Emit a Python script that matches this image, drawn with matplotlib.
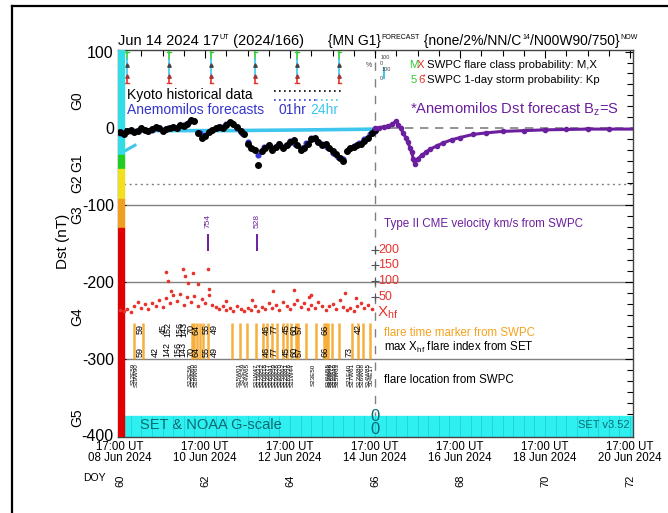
import numpy as np
import matplotlib
matplotlib.use("Agg")
import matplotlib.pyplot as plt
from matplotlib.lines import Line2D
from matplotlib.ticker import MultipleLocator

plt.rcParams.update({"font.family": "Liberation Sans", "mathtext.fontset": "custom",
                     "mathtext.rm": "Liberation Sans", "mathtext.it": "Liberation Sans:italic",
                     "mathtext.bf": "Liberation Sans:bold", "axes.linewidth": 1.0})

# time axis: days since 17:00 UT 08 Jun 2024
# Kyoto Dst, every 2 h from day 0 to day 6
KYOTO = [-5, -7, -4, -2, -5, -3, 0, -2, -4, -1, 2, 0,
         -3, -1, 0, 2, 1, 4, 3, 5, 11, 10, -6, -12,
         -10, -5, -2, 0, 2, 0, 4, 8, 6, 2, -3, -8,
         -20, -25, -28, -48, -30, -26, -22, -28, -24, -20, -26, -22,
         -18, -15, -22, -28, -25, -20, -14, -12, -18, -22, -20, -26,
         -30, -34, -38, -42, -30, -26, -24, -22, -20, -16, -12, -6,
         -2]
# Anemomilos 01hr forecast, every 3 h
FC01 = [-6, -5, -3, -4, -1, -3, -2, 0,
        -2, 1, 2, 3, 4, 8, 9, -6,
        -9, -3, 1, 2, 5, 7, 1, -6,
        -18, -27, -35, -24, -22, -26, -20, -23,
        -16, -20, -26, -19, -12, -17, -21, -24,
        -32, -37, -40, -27, -23, -19, -14, -8,
        -3]
# Anemomilos 24hr forecast
FC24_T = [0.05, 0.6, 2.5, 4.5, 6.05]
FC24_V = [-5, -3, -3, -2, -1]
FC24S_T = [0.06, 0.35]
FC24S_V = [-31, -22]
# Dst forecast Bz=S
DST_T = [6.0, 6.1, 6.2, 6.3, 6.4, 6.5, 6.55, 6.6, 6.66, 6.72, 6.77, 6.82, 6.86, 6.9, 6.93,
         7.0, 7.1, 7.2, 7.3, 7.45, 7.6, 7.8, 8.0, 8.3, 8.6, 9.0, 9.5, 10.0, 10.5, 11.0, 11.5, 12.07]
DST_V = [0, 1, 2, 3, 5, 10, 4, 0, -6, -12, -18, -25, -31, -40, -46,
         -40, -35, -31, -27, -23, -19, -15, -12, -8, -6, -4, -3, -2, -1.5, -1, -1, -1]
# SET X_hf flare index, every 2 h, plus spikes
XHF = [8, 5, 12, 3, 20, 35, 15, 28, 10, 30, 22, 40,
       18, 45, 30, 55, 38, 60, 25, 48, 35, 52, 20, 42,
       30, 55, 25, 18, 10, 22, 8, 15, 5, 20, 12, 6,
       15, 8, 22, 4, 18, 10, 30, 14, 25, 8, 35, 20,
       12, 28, 40, 18, 30, 10, 25, 15, 35, 22, 8, 20,
       28, 12, 40, 18, 8, 15, 5, 22, 30, 14, 25, 10]
XHF_SPK_T = [1.08, 1.12, 1.2, 1.48, 1.52, 1.6, 1.72, 1.83, 2.06, 2.1, 3.6, 4.1, 4.45, 4.5, 5.3, 5.55, 2.5, 3.1]
XHF_SPK_V = [130, 100, 70, 140, 115, 95, 125, 90, 140, 75, 70, 72, 48, 55, 62, 45, 38, 40]
# SWPC flare times
FLARE_T = [0.33, 0.53, 1.68, 1.75, 1.82, 1.87, 1.94, 2.06, 2.64, 2.81, 2.99, 3.20, 3.37, 3.46, 3.58,
           3.70, 3.84, 3.93, 4.02, 4.14, 4.19, 4.37, 4.61, 4.80, 4.84, 4.89, 4.98, 5.15, 5.45, 5.59,
           5.71, 5.89]
# max X_hf index labels (two rows)
IDX_TOP_T = [0.04, 0.47, 1.01, 1.13, 1.40, 1.50, 1.68, 1.79, 2.03, 2.22, 3.43, 3.63, 3.90, 4.09, 4.21, 4.83, 5.61]
IDX_TOP = ["53", "59", "45", "152", "156", "143", "70", "64", "55", "49", "46", "77", "45", "60", "57", "66", "42"]
IDX_BOT_T = [0.47, 0.82, 1.09, 1.36, 1.48, 1.68, 1.79, 2.03, 2.22, 3.43, 3.63, 3.90, 4.09, 4.21, 4.83, 5.38]
IDX_BOT = ["59", "42", "142", "156", "143", "70", "64", "55", "49", "46", "77", "45", "60", "57", "66", "73"]
# flare locations
LOC_T = [0.30, 0.38, 1.65, 1.72, 1.80, 2.80, 2.90, 3.00, 3.20, 3.27, 3.34, 3.41, 3.48, 3.55, 3.62,
         3.69, 3.76, 3.83, 3.90, 3.97, 4.04, 4.55, 4.90, 4.95, 5.00, 5.05, 5.10, 5.40, 5.47, 5.62,
         5.69, 5.85, 5.92]
LOC = ["S12E59", "S19W90", "S12E56", "S15W60", "S18W66", "S15W01", "S12E59", "S14W65", "S11W47",
       "S17W33", "S12W52", "S20W18", "S13W77", "S16W41", "S12W59", "S19W28", "S14W70", "S15W62",
       "S12W81", "S18W36", "S11W44", "S23E50", "S16W55", "S12W66", "S18W72", "S14W49", "S15W63",
       "S21E40", "S17W61", "S13W80", "S16W68", "S14W85", "S04E17"]
# CME type II
CME_T = [2.06, 3.23]
CME_V = ["754", "528"]
# SWPC probability markers
PROB_T = [0.16, 1.15, 2.15, 3.18, 4.16, 5.16]

XTICKS = [0, 2, 4, 6, 8, 10, 12]
XLABELS = ["17:00 UT\n08 Jun 2024", "17:00 UT\n10 Jun 2024", "17:00 UT\n12 Jun 2024",
           "17:00 UT\n14 Jun 2024", "17:00 UT\n16 Jun 2024", "17:00 UT\n18 Jun 2024",
           "17:00 UT\n20 Jun 2024"]
DOY = ["60", "62", "64", "66", "68", "70", "72"]
GSCALE = [(36, "G0"), (-45, "G1"), (-72, "G2"), (-112, "G3"), (-245, "G4"), (-377, "G5")]
GBAR = [(102, -35, "#33dde6"), (-35, -53, "#22cc22"), (-53, -92, "#f0e020"),
        (-92, -130, "#f0a020"), (-130, -402, "#e00000")]
XHF_SCALE = [200, 150, 100, 50]
# header pieces: (text, superscript?)
HEAD1 = [("Jun 14 2024 17", False), ("UT", True), (" (2024/166)", False)]
HEAD2 = [("{MN G1}", False), ("FORECAST", True), (" {none/2%/NN/C", False), ("14", True),
         ("/N00W90/750}", False), ("NOW", True)]

CYAN = "#2ef0f0"
CYAN_L = "#3fc6ef"
BLUE = "#3434d0"
PURPLE = "#6b1f9e"
ORANGE = "#f6a21c"
RED = "#e8332d"
TEAL = "#0b6b73"
GRAY = "#808080"


def header(ax, x0, pieces, size):
    prev = base = None
    for s, sup in pieces:
        if base is None:
            prev = base = ax.annotate(s, xy=(x0, 1 - 48 / 513), xycoords="figure fraction",
                                      fontsize=size, va="bottom", annotation_clip=False)
        elif sup:
            prev = ax.annotate(s, xy=(1, 1), xycoords=(prev, base), xytext=(0.5, 0),
                               textcoords="offset points", fontsize=size * 0.5, va="top",
                               annotation_clip=False)
        else:
            prev = base = ax.annotate(s, xy=(1, 0), xycoords=(prev, base),
                                      fontsize=size, va="bottom", annotation_clip=False)
    return prev


fig = plt.figure(figsize=(6.68, 5.13), dpi=100)
ax = fig.add_axes([118 / 668, 1 - 437 / 513, 515 / 668, 387 / 513])
ax.set_xlim(-0.05, 12.07)
ax.set_ylim(-402, 102)

# frame of the screenshot
fig.add_artist(Line2D([12 / 668, 1.0], [1 - 6 / 513] * 2, color="k", lw=1.6))
fig.add_artist(Line2D([12 / 668] * 2, [0, 1 - 6 / 513], color="k", lw=1.6))

# reference lines
for lvl in (-100, -200, -300):
    ax.axhline(lvl, color=GRAY, lw=1.0, zorder=1)
ax.axhline(-72, color=GRAY, lw=1.0, ls=(0, (1.5, 2.5)), zorder=1)
ax.hlines(0, 6, 12.07, color=GRAY, lw=1.2, ls=(0, (5, 4)), zorder=1)
ax.axvline(6, color=GRAY, lw=1.0, ls=(0, (6, 6)), zorder=1)

# bottom G-scale band
ax.axhspan(-402, -374, color=CYAN, zorder=2)
ax.vlines(np.arange(0, 12.01, 0.25), -402, -374, color="#20d0d8", lw=0.6, zorder=2)
ax.text(0.47, -387, "SET & NOAA G-scale", color=TEAL, fontsize=10.5, va="center", zorder=3)
ax.text(12.0, -387, "SET v3.52", color=TEAL, fontsize=8, va="center", ha="right", zorder=3)
ax.text(6.0, -375, "0", color=TEAL, fontsize=12, ha="center", va="center", zorder=3)
ax.text(6.0, -392, "0", color=TEAL, fontsize=12, ha="center", va="center", zorder=3)

# left G bar
for top, bot, c in GBAR:
    ax.axhspan(bot, top, xmin=0, xmax=0.011, color=c, zorder=4)

# probability markers at top
for t in PROB_T:
    ax.plot([t, t], [100, 90], color="#33cc33", lw=1.2, zorder=3)
    ax.plot([t, t], [90, 66], color=CYAN_L, lw=1.2, zorder=3)
    ax.plot([t, t], [66, 59], color=RED, lw=1.2, zorder=3)
    ax.plot([t - 0.04, t + 0.04], [59, 59], color=RED, lw=1.0, zorder=3)
    ax.plot([t - 0.04, t + 0.04], [100, 100], color="#33cc33", lw=1.0, zorder=3)
    ax.plot([t], [82], marker="^", ms=2.5, color="#444444", zorder=3)
    ax.plot([t], [68], marker="^", ms=2.5, color="#aa3333", zorder=3)
ax.plot([6.2, 6.2], [78, 66], color=CYAN_L, lw=1.4)
ax.text(6.13, 92, "100", fontsize=4, color="#444444", va="center")
ax.text(5.93, 82, "%", fontsize=5, color="#444444", va="center", ha="right")
ax.text(6.1, 85, "0", fontsize=4, color="#444444", va="center")
ax.text(6.15, 76, "100", fontsize=4, color="#444444", va="center")
ax.text(6.1, 65, "0", fontsize=4, color="#444444", va="center")

# Dst series
kt = np.arange(len(KYOTO)) * 2 / 24
ft = np.arange(len(FC01)) * 3 / 24
ax.plot(FC24_T, FC24_V, color=CYAN_L, lw=2.6, zorder=3, solid_capstyle="butt")
ax.plot(FC24S_T, FC24S_V, color=CYAN_L, lw=2.2, zorder=3)
ax.plot(ft, FC01, "o", color=BLUE, ms=3.4, zorder=4)
ax.plot(kt, KYOTO, "o", color="k", ms=4.0, zorder=5)
ax.plot(DST_T, DST_V, "-", color=PURPLE, lw=2.2, zorder=5)
ax.plot(DST_T[:-1], DST_V[:-1], "o", color=PURPLE, ms=3, zorder=5)

# legend text
ax.text(0.16, 44, "Kyoto historical data", fontsize=10, va="center")
ax.text(0.16, 24.5, "Anemomilos forecasts", fontsize=10, color=BLUE, va="center")
ax.text(3.72, 24.5, "01hr", fontsize=10, color=BLUE, va="center")
ax.text(4.47, 24.5, "24hr", fontsize=10, color=CYAN_L, va="center")
ax.plot([3.63, 5.19], [49, 49], color="k", lw=1.2, ls=(0, (1, 2)))
ax.plot([3.63, 4.6], [37, 37], color=BLUE, lw=1.2, ls=(0, (1, 2)))
ax.plot([4.6, 5.19], [37, 37], color=CYAN_L, lw=1.2, ls=(0, (1, 2)))

ax.text(6.81, 82.6, "M", color="#33cc33", fontsize=8.2, va="center")
ax.text(6.99, 82.6, "X", color=RED, fontsize=8.2, va="center")
ax.text(7.22, 82.6, "SWPC flare class probability: M,X", fontsize=8.2, va="center")
ax.text(6.84, 63, "5", color="#33cc33", fontsize=8.2, va="center")
ax.text(7.01, 63, "6", color=RED, fontsize=8.2, va="center")
ax.text(7.12, 67, "*", color=RED, fontsize=5, va="center")
ax.text(7.22, 63, "SWPC 1-day storm probability: Kp", fontsize=8.2, va="center")
ax.text(6.83, 24.5, r"*Anemomilos Dst forecast B$_{\rm z}$=S", color=PURPLE, fontsize=10.6, va="center")
ax.text(6.2, -125, "Type II CME velocity km/s from SWPC", color=PURPLE, fontsize=8.4, va="center")
ax.text(6.2, -267, "flare time marker from SWPC", color=ORANGE, fontsize=8.3, va="center")
ax.text(6.2, -286, r"max X$_{\rm hf}$ flare index from SET", fontsize=8.3, va="center")
ax.text(6.2, -328, "flare location from SWPC", fontsize=8.3, va="center")

# CME markers
ax.vlines(CME_T, -160, -137, color=PURPLE, lw=1.4, zorder=3)
for t, s in zip(CME_T, CME_V):
    ax.text(t, -130, s, color=PURPLE, fontsize=6, rotation=90, ha="center", va="bottom")

# flare markers and labels
ax.vlines(FLARE_T, -300, -253, color=ORANGE, lw=1.8, alpha=0.85, zorder=2)
for t, s in zip(IDX_TOP_T, IDX_TOP):
    ax.text(t, -262, s, fontsize=6.5, rotation=90, ha="center", va="center", zorder=3)
for t, s in zip(IDX_BOT_T, IDX_BOT):
    ax.text(t, -298, s, fontsize=6.5, rotation=90, ha="center", va="bottom", zorder=3)
for t, s in zip(LOC_T, LOC):
    ax.text(t, -306, s, fontsize=4.5, rotation=90, ha="center", va="top", zorder=3)

# X_hf on its own scale
ax2 = ax.twinx()
ax2.set_ylim((-402 + 240) / 0.41, (102 + 240) / 0.41)
ax2.set_axis_off()
xt = np.arange(len(XHF)) * 2 / 24
ax2.plot(xt, XHF, "o", color=RED, ms=1.6)
ax2.plot(XHF_SPK_T, XHF_SPK_V, "o", color=RED, ms=1.6)
ax2.plot([6] * len(XHF_SCALE), XHF_SCALE, "+", color="#555555", ms=6, mew=0.8)
for v in XHF_SCALE:
    ax2.text(6.08, v, str(v), color=RED, fontsize=9, va="center")
ax2.text(6.05, 0, r"X$_{\rm hf}$", color=RED, fontsize=11, va="center")
ax2.set_xlim(ax.get_xlim())

# axes styling
ax.set_yticks([100, 0, -100, -200, -300, -400])
ax.set_yticklabels(["100", "0", "-100", "-200", "-300", "-400"], fontsize=11.5)
ax.yaxis.set_minor_locator(MultipleLocator(100 / 7))
ax.set_xticks(XTICKS)
ax.set_xticklabels(XLABELS, fontsize=8.3, linespacing=0.85)
ax.xaxis.set_minor_locator(MultipleLocator(0.5))
ax.tick_params(which="both", direction="in", top=True, right=True)
ax.tick_params(which="major", length=6, width=0.8, pad=3)
ax.tick_params(which="minor", length=4, width=0.8)
for s in ax.spines.values():
    s.set_color("#444444")

for v, g in GSCALE:
    ax.text(-0.08, v, g, transform=ax.get_yaxis_transform(), rotation=90,
            fontsize=10, ha="center", va="center")
ax.text(-0.107, -147, "Dst (nT)", transform=ax.get_yaxis_transform(), rotation=90,
        fontsize=11, ha="center", va="center")
for t, d in zip(XTICKS, DOY):
    ax.text(t, -0.114, d, transform=ax.get_xaxis_transform(), rotation=90,
            fontsize=8, ha="center", va="center")
ax.text(-0.045, -0.106, "DOY", transform=ax.transAxes, fontsize=7.5, ha="center", va="center")

# header line above the plot
header(ax, 118 / 668, HEAD1, 10.5)
header(ax, 328 / 668, HEAD2, 10)

fig.savefig("out.png", dpi=100)
